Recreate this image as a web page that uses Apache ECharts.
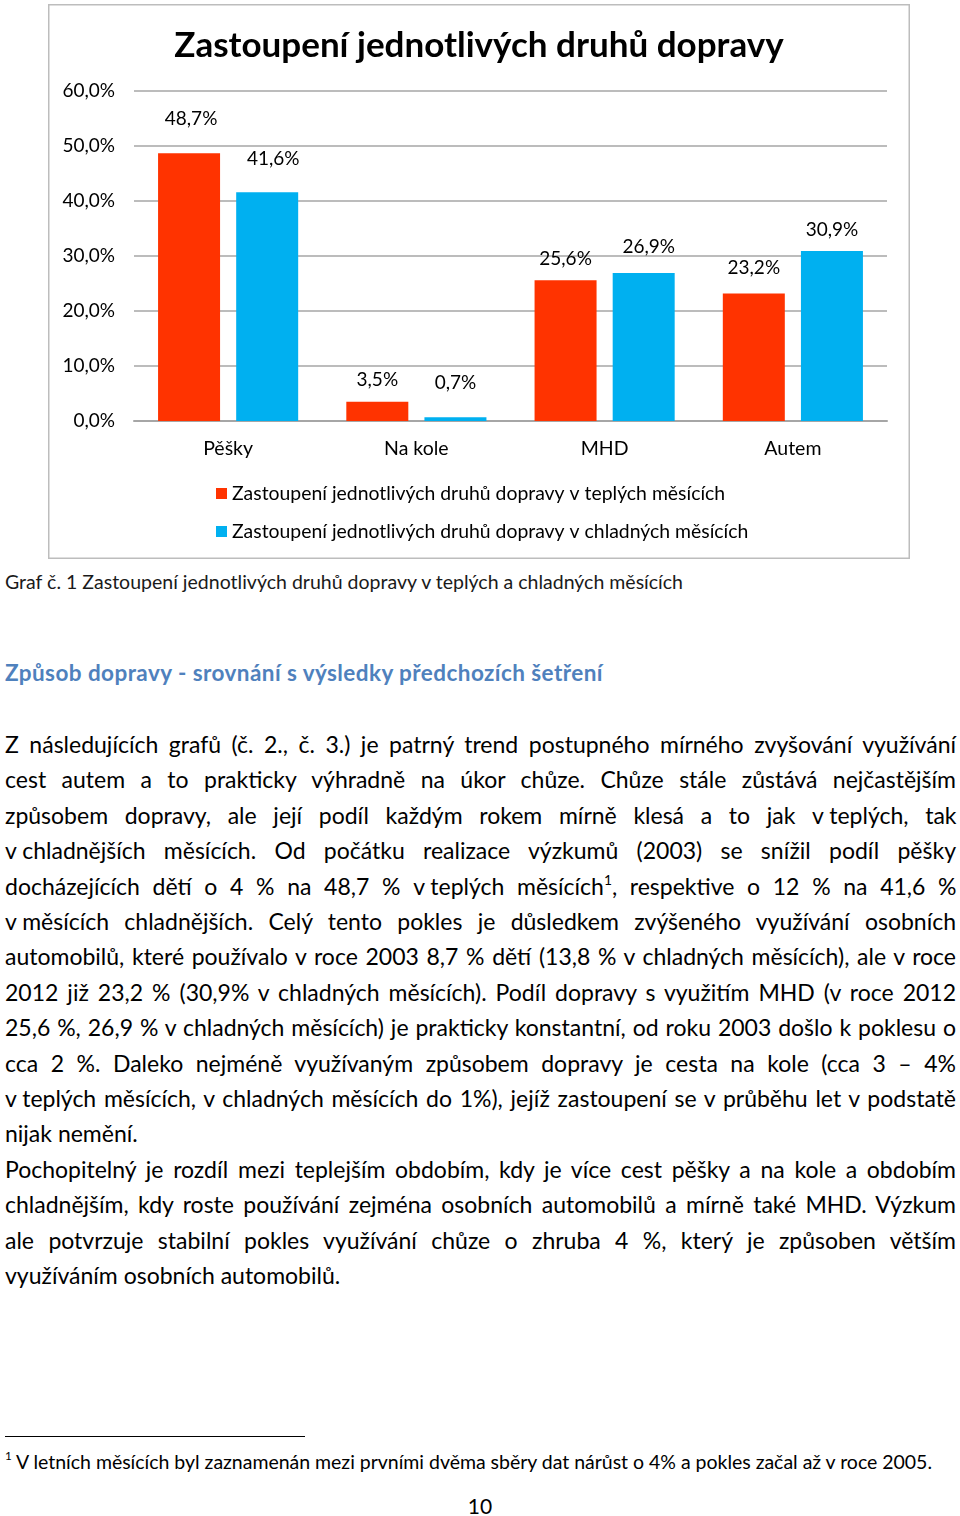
<!DOCTYPE html>
<html>
<head>
<meta charset="utf-8">
<script src="https://cdn.jsdelivr.net/npm/echarts@6/dist/echarts.min.js"></script>
<style>
body { margin: 0; width: 960px; height: 1516px; position: relative; background: #fff; font-family: Lato, sans-serif; color: #000; overflow: hidden; }
.t { position: absolute; white-space: pre; }
.ln { position: absolute; left: 5px; white-space: pre; font-size: 23px; line-height: 34px; }
.nb { word-spacing: 0; }
#chart { position: absolute; left: 48px; top: 4px; width: 862px; height: 555px; }
sup { font-size: 60%; line-height: 0; vertical-align: 0.75em; }
</style>
</head>
<body>
<div id="chart"></div>
<div class="t" id="caption" data-w="678" style="left:5px;top:571px;font-size:19.5px;line-height:22px;color:#1a1a1a">Graf č. 1 Zastoupení jednotlivých druhů dopravy v teplých a chladných měsících</div>
<div class="t" id="heading" data-w="598" style="left:5px;top:660px;font-size:22.5px;line-height:26px;font-weight:bold;color:#4f81bd">Způsob dopravy - srovnání s výsledky předchozích šetření</div>
<div id="text"></div>
<div style="position:absolute;left:5px;top:1436px;width:300px;height:0;border-top:1.3px solid #000"></div>
<div class="t" id="foot" data-w="927" style="left:5px;top:1450px;font-size:19.5px;line-height:24px"><sup>1</sup> V letních měsících byl zaznamenán mezi prvními dvěma sběry dat nárůst o 4% a pokles začal až v roce 2005.</div>
<div class="t" style="left:460px;top:1494px;width:40px;text-align:center;font-size:21px;line-height:24px">10</div>
<script>
// data
const categories = ['Pěšky', 'Na kole', 'MHD', 'Autem'];
const warmShare = [48.7, 3.5, 25.6, 23.2];
const coldShare = [41.6, 0.7, 26.9, 30.9];
const seriesNames = [
  'Zastoupení jednotlivých druhů dopravy v teplých měsících',
  'Zastoupení jednotlivých druhů dopravy v chladných měsících'
];
const yMin = 0, yMax = 60, yStep = 10;

// label placement as in the original (Excel put them a bit loosely)
const warmLift = [26, 13, 13, 17], warmShift = [2, 0, 0, 0];
const coldLift = [25, 26, 18, 13], coldShift = [6, 0, 5, 0];

// body text, one entry per printed line; 0 marks lines that are not justified
const lines = [
  ['Z následujících grafů (č. 2., č. 3.) je patrný trend postupného mírného zvyšování využívání', 1],
  ['cest autem a to prakticky výhradně na úkor chůze. Chůze stále zůstává nejčastějším', 1],
  ['způsobem dopravy, ale její podíl každým rokem mírně klesá a to jak <span class="nb">v\u00a0teplých,</span> tak', 1],
  ['<span class="nb">v\u00a0chladnějších</span> měsících. Od počátku realizace výzkumů (2003) se snížil podíl pěšky', 1],
  ['docházejících dětí o 4 % na 48,7 % <span class="nb">v\u00a0teplých</span> měsících<sup>1</sup>, respektive o 12 % na 41,6 %', 1],
  ['<span class="nb">v\u00a0měsících</span> chladnějších. Celý tento pokles je důsledkem zvýšeného využívání osobních', 1],
  ['automobilů, které používalo v roce 2003 8,7 % dětí (13,8 % v chladných měsících), ale v roce', 1],
  ['2012 již 23,2 % (30,9% v chladných měsících). Podíl dopravy s využitím MHD (v roce 2012', 1],
  ['25,6 %, 26,9 % v chladných měsících) je prakticky konstantní, od roku 2003 došlo k poklesu o', 1],
  ['cca 2 %. Daleko nejméně využívaným způsobem dopravy je cesta na kole (cca 3 – 4%', 1],
  ['<span class="nb">v\u00a0teplých</span> měsících, v chladných měsících do 1%), jejíž zastoupení se v průběhu let v podstatě', 1],
  ['nijak nemění.', 0],
  ['Pochopitelný je rozdíl mezi teplejším obdobím, kdy je více cest pěšky a na kole a obdobím', 1],
  ['chladnějším, kdy roste používání zejména osobních automobilů a mírně také MHD. Výzkum', 1],
  ['ale potvrzuje stabilní pokles využívání chůze o zhruba 4 %, který je způsoben větším', 1],
  ['využíváním osobních automobilů.', 0]
];

const box = document.getElementById('text');
lines.forEach(function (l, i) {
  const d = document.createElement('div');
  d.className = 'ln';
  d.style.top = (727 + i * 35.4) + 'px';
  d.innerHTML = l[0];
  if (l[1]) d.dataset.just = '951';
  box.appendChild(d);
});

function fitText() {
  // stretch/shrink lines to the widths of the scanned page
  document.querySelectorAll('[data-just]').forEach(function (el) {
    const target = +el.dataset.just;
    const w = el.getBoundingClientRect().width;
    const spaces = (el.textContent.match(/ /g) || []).length;
    let ws = (target - w) / spaces;
    if (ws < -1.5) {
      const chars = el.textContent.length;
      el.style.letterSpacing = ((target - w + 1.5 * spaces) / chars) + 'px';
      ws = -1.5;
    }
    el.style.wordSpacing = ws + 'px';
  });
  document.querySelectorAll('[data-w]').forEach(function (el) {
    const target = +el.dataset.w;
    const w = el.getBoundingClientRect().width;
    el.style.letterSpacing = ((target - w) / el.textContent.length) + 'px';
  });
}

const pct = function (v) { return v.toFixed(1).replace('.', ',') + '%'; };

const chart = echarts.init(document.getElementById('chart'));
chart.setOption({
  animation: false,
  textStyle: { fontFamily: 'Lato' },
  title: {
    text: 'Zastoupení jednotlivých druhů dopravy',
    left: 'center',
    top: 19,
    textStyle: { fontSize: 35, fontWeight: 'bold', color: '#000', fontFamily: 'Lato' }
  },
  graphic: [{
    type: 'rect',
    shape: { x: 0.75, y: 0.75, width: 860.5, height: 553.5 },
    style: { fill: 'none', stroke: '#bdbdbd', lineWidth: 1.5 },
    silent: true
  }],
  legend: {
    orient: 'vertical',
    left: 163,
    top: 475,
    itemWidth: 11,
    itemHeight: 11,
    itemGap: 19,
    icon: 'rect',
    textStyle: { fontSize: 19.4, color: '#000', fontFamily: 'Lato' },
    data: seriesNames
  },
  grid: { left: 86, top: 87, width: 753, height: 330 },
  xAxis: {
    type: 'category',
    data: categories,
    axisLine: { lineStyle: { color: '#a6a6a6', width: 2 } },
    axisTick: { show: false },
    axisLabel: { fontSize: 19.5, color: '#000', margin: 18 }
  },
  yAxis: {
    type: 'value',
    min: yMin,
    max: yMax,
    interval: yStep,
    axisLine: { show: false },
    axisTick: { show: false },
    splitLine: { lineStyle: { color: '#a6a6a6', width: 1.5 } },
    axisLabel: { fontSize: 19, color: '#000', margin: 19, formatter: pct }
  },
  series: [{
    name: seriesNames[0],
    type: 'bar',
    barWidth: 62,
    barGap: '26%',
    itemStyle: { color: '#ff3300' },
    label: { show: true, position: 'top', fontSize: 19, color: '#000', formatter: function (p) { return pct(p.value); } },
    data: warmShare.map(function (v, i) {
      return { value: v, label: { distance: warmLift[i] - 1, offset: [warmShift[i], 0] } };
    })
  }, {
    name: seriesNames[1],
    type: 'bar',
    barWidth: 62,
    barGap: '26%',
    itemStyle: { color: '#00b0f0' },
    label: { show: true, position: 'top', fontSize: 19, color: '#000', formatter: function (p) { return pct(p.value); } },
    data: coldShare.map(function (v, i) {
      return { value: v, label: { distance: coldLift[i] - 1, offset: [coldShift[i], 0] } };
    })
  }]
});

if (document.fonts && document.fonts.ready) {
  document.fonts.ready.then(fitText);
} else {
  fitText();
}
</script>
</body>
</html>
